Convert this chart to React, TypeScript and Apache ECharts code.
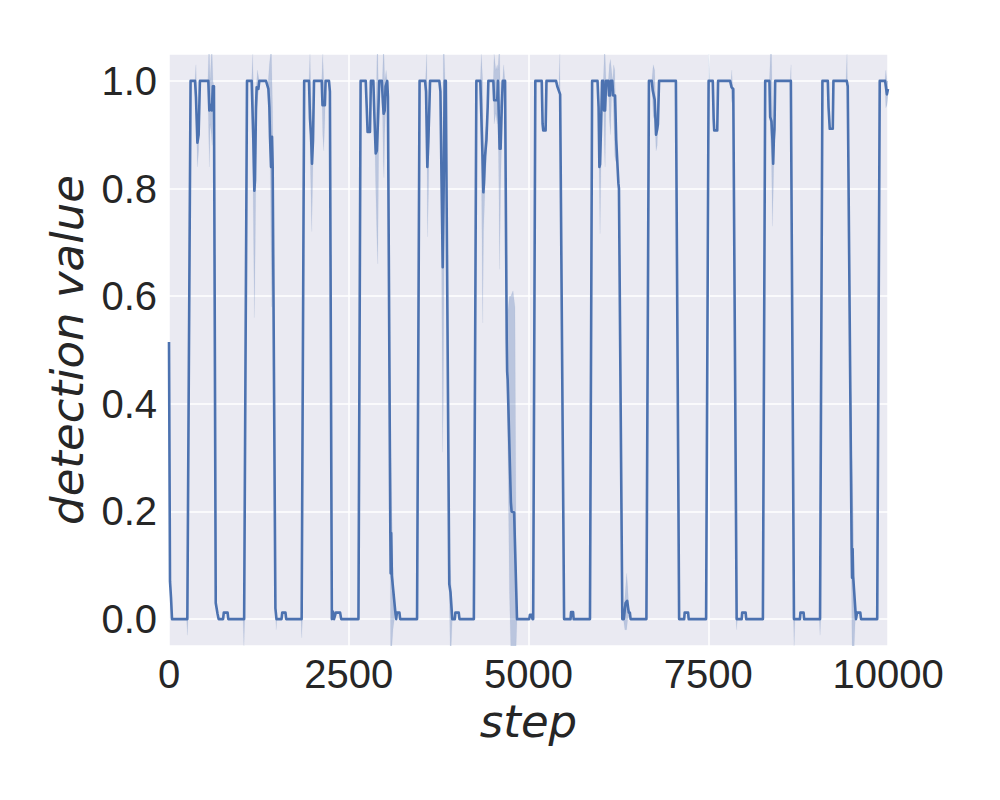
import React, { useEffect, useRef } from "react";
import * as echarts from "echarts";

// Axis ticks
const X_TICKS = [0, 2500, 5000, 7500, 10000];
const Y_TICKS = [0, 0.2, 0.4, 0.6, 0.8, 1.0];
const X_RANGE = [0, 10000];
const Y_RANGE = [-0.05, 1.05];

// Mean detection value per step: [step, value]
const meanCurve: [number, number][] = [
  [0, 0.515], [14, 0.07], [28, 0.04], [42, 0],
  // cycle 1
  [255, 0], [300, 1.0], [362, 1.0], [375, 0.97], [395, 0.885], [412, 0.9], [430, 1.0], [547, 1.0], [561, 0.945], [580, 0.955], [595, 0.945], [610, 0.99], [625, 0.99], [650, 0.03], [675, 0.01], [690, 0],
  [752, 0], [762, 0.012], [815, 0.012], [825, 0],
  // cycle 2
  [1045, 0], [1085, 1.0], [1150, 1.0], [1173, 0.889], [1187, 0.796], [1196, 0.815], [1210, 0.951], [1219, 0.988], [1243, 0.985], [1256, 1.0], [1349, 1.0], [1382, 0.985], [1396, 0.951], [1405, 0.896], [1419, 0.84], [1433, 0.896], [1442, 0.84], [1451, 0.84], [1480, 0.02], [1495, 0],
  [1565, 0], [1575, 0.012], [1620, 0.012], [1630, 0],
  // cycle 3
  [1845, 0], [1880, 1.0], [1947, 1.0], [1961, 0.93], [1975, 0.9], [1989, 0.846], [2003, 0.89], [2017, 1.0], [2124, 1.0], [2135, 0.955], [2168, 0.955], [2178, 1.0], [2225, 1.0], [2238, 0.98], [2265, 0],
  [2280, 0.014], [2295, 0], [2320, 0.012], [2380, 0.012], [2395, 0],
  // cycle 4
  [2635, 0], [2665, 1.0], [2736, 1.0], [2750, 0.951], [2762, 0.905], [2795, 0.905], [2808, 1.0], [2842, 1.0], [2858, 0.93], [2875, 0.865], [2890, 0.87], [2905, 0.92], [2925, 1.0], [2960, 1.0], [2975, 0.96], [2985, 0.939], [3000, 0.945], [3012, 0.99], [3035, 1.0], [3045, 0.97], [3078, 0.165], [3083, 0.085], [3090, 0.16], [3100, 0.08], [3150, 0.01], [3160, 0],
  [3170, 0.012], [3205, 0.012], [3215, 0],
  // cycle 5
  [3450, 0], [3485, 1.0], [3561, 1.0], [3575, 0.98], [3593, 0.84], [3607, 0.889], [3621, 0.951], [3631, 1.0], [3760, 1.0], [3775, 0.98], [3790, 0.82], [3807, 0.654], [3820, 0.8], [3835, 1.0], [3850, 1.0], [3898, 0.065], [3915, 0.05], [3940, 0],
  [3975, 0], [3983, 0.012], [4030, 0.012], [4040, 0],
  // cycle 6
  [4240, 0], [4275, 1.0], [4330, 1.0], [4345, 0.93], [4360, 0.86], [4372, 0.793], [4380, 0.81], [4395, 0.86], [4415, 0.89], [4432, 0.95], [4442, 1.0], [4511, 1.0], [4522, 0.964], [4565, 0.964], [4575, 1.0], [4588, 0.93], [4598, 0.874], [4612, 0.874], [4628, 0.95], [4642, 1.0], [4674, 1.0], [4697, 0.52], [4703, 0.46], [4710, 0.445], [4755, 0.217], [4765, 0.2], [4800, 0.198], [4840, 0],
  [5010, 0], [5020, 0.008], [5045, 0.008], [5055, 0],
  // cycle 7
  [5065, 0], [5095, 1.0], [5184, 1.0], [5196, 0.92], [5205, 0.908], [5238, 0.908], [5250, 1.0], [5383, 1.0], [5400, 0.99], [5440, 0.975], [5495, 0],
  [5585, 0], [5592, 0.013], [5620, 0.013], [5628, 0],
  // cycle 8
  [5855, 0], [5885, 1.0], [5960, 1.0], [5975, 0.95], [5986, 0.84], [5995, 0.845], [6010, 0.92], [6023, 1.0], [6041, 1.0], [6051, 0.945], [6065, 0.945], [6080, 1.0], [6110, 1.0], [6120, 0.973], [6134, 0.973], [6145, 1.0], [6166, 1.0], [6178, 0.973], [6204, 0.973], [6220, 0.89], [6250, 0.81], [6258, 0.8], [6305, 0],
  [6325, 0], [6350, 0.03], [6372, 0.034], [6395, 0.012], [6410, 0.012], [6420, 0],
  // cycle 9
  [6640, 0], [6675, 1.0], [6714, 1.0], [6728, 0.982], [6755, 0.965], [6774, 0.9], [6790, 0.91], [6800, 0.92], [6816, 1.0], [7050, 1.0], [7095, 0],
  [7165, 0], [7172, 0.012], [7220, 0.012], [7228, 0],
  // cycle 10
  [7470, 0], [7505, 1.0], [7563, 1.0], [7575, 0.93], [7583, 0.908], [7625, 0.908], [7637, 1.0], [7804, 1.0], [7825, 0.988], [7848, 0.985], [7895, 0],
  [7965, 0], [7972, 0.012], [8020, 0.012], [8028, 0],
  // cycle 11
  [8260, 0], [8292, 1.0], [8351, 1.0], [8361, 0.933], [8379, 0.925], [8393, 0.89], [8403, 0.846], [8412, 0.89], [8421, 0.91], [8431, 1.0], [8649, 1.0], [8692, 0],
  [8775, 0], [8782, 0.012], [8826, 0.012], [8834, 0],
  // cycle 12
  [9055, 0], [9088, 1.0], [9163, 1.0], [9173, 0.951], [9190, 0.911], [9232, 0.911], [9241, 1.0], [9427, 1.0], [9440, 0.99], [9494, 0.133], [9500, 0.077], [9508, 0.13], [9515, 0.08], [9555, 0], [9570, 0.012], [9615, 0.012], [9625, 0],
  // cycle 13
  [9850, 0], [9885, 1.0], [9960, 1.0], [9975, 0.985], [9985, 0.975], [10000, 0.985],
];

// Confidence band pieces: each is a list of [step, lower, upper]
const ciBands: number[][][] = [
  [[360, 1, 1], [375, 0.95, 1.03], [395, 0.84, 0.92], [412, 0.87, 0.93], [430, 1, 1]],
  [[540, 1, 1], [552, 0.9, 1.05], [562, 0.84, 1.05], [572, 0.92, 1.0], [590, 0.9, 1.05], [600, 0.88, 1.05], [612, 0.96, 1.0], [625, 0.99, 0.99]],
  [[1150, 1, 1], [1164, 0.88, 1.05], [1187, 0.56, 0.9], [1200, 0.7, 0.95], [1215, 0.93, 0.99], [1230, 0.96, 1.02], [1256, 1, 1]],
  [[1375, 0.99, 0.99], [1396, 0.92, 1.03], [1412, 0.8, 1.05], [1425, 0.58, 1.05], [1440, 0.78, 0.95], [1451, 0.84, 0.84]],
  [[1947, 1, 1], [1961, 0.88, 1.05], [1985, 0.72, 0.92], [2003, 0.85, 0.95], [2017, 1, 1]],
  [[2124, 1, 1], [2138, 0.9, 1.05], [2152, 0.87, 1.0], [2168, 0.93, 0.98], [2178, 1, 1]],
  [[2856, 0.94, 0.94], [2875, 0.8, 0.9], [2893, 0.7, 1.05], [2903, 0.66, 1.05], [2915, 0.85, 0.97], [2926, 1, 1]],
  [[2965, 0.99, 0.99], [2980, 0.85, 1.05], [2990, 0.82, 1.05], [3000, 0.9, 1.0], [3020, 0.97, 1.02], [3035, 1, 1]],
  [[3060, 0.6, 0.6], [3072, 0.3, 0.5], [3082, -0.05, 0.35], [3100, -0.05, 0.2], [3115, -0.02, 0.1], [3135, 0, 0.01]],
  [[3565, 0.99, 0.99], [3584, 0.9, 1.05], [3596, 0.71, 0.92], [3610, 0.8, 0.95], [3631, 1, 1]],
  [[3770, 0.99, 0.99], [3790, 0.7, 0.95], [3805, 0.31, 0.8], [3815, 0.4, 1.05], [3828, 0.7, 1.05], [3840, 0.95, 1.0], [3850, 1, 1]],
  [[3890, 0.22, 0.22], [3900, 0.03, 0.165], [3910, -0.05, 0.1], [3925, -0.05, 0.06], [3940, 0, 0]],
  [[4330, 1, 1], [4344, 0.85, 1.05], [4363, 0.55, 1.0], [4375, 0.72, 0.85], [4395, 0.8, 0.9], [4420, 0.87, 0.93], [4442, 1, 1]],
  [[4511, 1, 1], [4522, 0.92, 1.05], [4545, 0.94, 1.02], [4565, 0.92, 1.03], [4575, 0.95, 1.02], [4588, 0.8, 1.05], [4598, 0.65, 1.05], [4612, 0.8, 0.95], [4628, 0.9, 1.0], [4642, 1, 1]],
  [[4640, 1, 1], [4655, 0.98, 1.03], [4672, 1, 1]],
  [[4697, 0.52, 0.52], [4712, 0.33, 0.57], [4735, 0.05, 0.6], [4753, -0.05, 0.6], [4785, -0.05, 0.61], [4812, -0.05, 0.58], [4828, -0.05, 0.1], [4840, 0, 0]],
  [[5420, 0.98, 0.98], [5436, 0.97, 1.05], [5446, 0.87, 0.87]],
  [[5960, 1, 1], [5980, 0.85, 0.97], [5995, 0.716, 0.88], [6010, 0.85, 0.95], [6023, 1, 1]],
  [[6041, 1, 1], [6055, 0.88, 1.05], [6065, 0.84, 1.05], [6078, 0.95, 1.0], [6088, 1, 1]],
  [[6110, 1, 1], [6125, 0.93, 1.03], [6140, 0.9, 1.04], [6155, 0.97, 1.02], [6170, 0.98, 1.0], [6185, 0.93, 1.03], [6200, 0.86, 1.02], [6215, 0.85, 0.92], [6235, 0.85, 0.85]],
  [[6320, 0, 0], [6340, -0.02, 0.04], [6365, -0.02, 0.085], [6380, 0.0, 0.06], [6395, 0.005, 0.02], [6410, 0.012, 0.012]],
  [[6714, 1, 1], [6735, 0.93, 1.03], [6755, 0.94, 1.02], [6774, 0.87, 0.93], [6790, 0.88, 0.95], [6816, 1, 1]],
  [[7495, 0.7, 0.7], [7508, 0.98, 1.05], [7520, 1, 1]],
  [[7815, 0.99, 0.99], [7827, 0.96, 1.02], [7840, 0.985, 0.985]],
  [[8351, 1, 1], [8365, 0.9, 1.05], [8380, 0.85, 1.05], [8393, 0.73, 0.95], [8405, 0.8, 0.9], [8420, 0.9, 0.95], [8431, 1, 1]],
  [[8640, 1, 1], [8652, 0.93, 1.03], [8662, 0.7, 0.7]],
  [[9415, 1, 1], [9430, 0.99, 1.05], [9448, 0.86, 0.86]],
  [[9470, 0.51, 0.51], [9490, 0.1, 0.4], [9500, -0.05, 0.3], [9515, -0.05, 0.2], [9530, -0.05, 0.05], [9545, 0, 0.02]],
  [[9955, 1, 1], [9970, 0.95, 1.02], [9985, 0.955, 1.0], [10000, 0.97, 1.0]],
  // faint spikes below zero
  [[245, 0, 0], [255, -0.03, 0], [265, 0, 0]],
  [[1030, 0, 0], [1042, -0.05, 0], [1054, 0, 0]],
  [[1480, 0.02, 0.02], [1490, -0.02, 0.01], [1500, 0, 0]],
  [[1836, 0, 0], [1846, -0.035, 0], [1856, 0, 0]],
  [[7885, 0.004, 0.004], [7895, -0.02, 0], [7905, 0, 0]],
  [[8682, 0.02, 0.02], [8694, -0.05, 0], [8706, 0, 0]],
  [[9045, 0, 0], [9055, -0.03, 0], [9065, 0, 0]],
];

const LINE_COLOR = "#4C72B0";
const TEXT_COLOR = "#262626";

export default function App() {
  const ref = useRef<HTMLDivElement>(null);

  useEffect(() => {
    if (!ref.current) return;
    const chart = echarts.init(ref.current, null, { renderer: "svg" });
    const isTick = (v: number, ticks: number[]) => ticks.some((t) => Math.abs(t - v) < 1e-9);

    chart.setOption({
      animation: false,
      backgroundColor: "#ffffff",
      grid: {
        left: 169,
        top: 54,
        width: 719,
        height: 592,
        show: true,
        backgroundColor: "#EAEAF2",
        borderWidth: 0,
      },
      xAxis: {
        type: "value",
        min: X_RANGE[0],
        max: X_RANGE[1],
        interval: 2500,
        name: "step",
        nameLocation: "middle",
        nameGap: 52,
        nameTextStyle: {
          fontFamily: "DejaVu Sans",
          fontStyle: "italic",
          fontSize: 45,
          color: TEXT_COLOR,
        },
        axisLine: { show: false },
        axisTick: { show: false },
        axisLabel: {
          margin: 8,
          fontFamily: "Liberation Sans",
          fontSize: 40,
          color: TEXT_COLOR,
          formatter: (v: number) => (isTick(v, X_TICKS) ? String(v) : ""),
        },
        splitLine: { show: true, lineStyle: { color: "#ffffff", width: 1.5 } },
      },
      yAxis: {
        type: "value",
        min: Y_RANGE[0],
        max: Y_RANGE[1],
        splitNumber: 5,
        name: "detection value",
        nameLocation: "middle",
        nameGap: 70,
        nameTextStyle: {
          fontFamily: "DejaVu Sans",
          fontStyle: "italic",
          fontSize: 45,
          color: TEXT_COLOR,
        },
        axisLine: { show: false },
        axisTick: { show: false },
        axisLabel: {
          margin: 12,
          fontFamily: "Liberation Sans",
          fontSize: 40,
          color: TEXT_COLOR,
          showMinLabel: false,
          showMaxLabel: false,
          formatter: (v: number) => (isTick(v, Y_TICKS) ? v.toFixed(1) : ""),
        },
        splitLine: { show: true, lineStyle: { color: "#ffffff", width: 1.5 } },
      },
      series: [
        {
          type: "custom",
          z: 1,
          clip: true,
          encode: { x: 0, y: 1 },
          data: ciBands.map((seg, i) => [seg[0][0], seg[0][1], i]),
          renderItem: (params: any, api: any) => {
            const seg = ciBands[params.dataIndex];
            const upper = seg.map((p) => api.coord([p[0], p[2]]));
            const lower = seg
              .slice()
              .reverse()
              .map((p) => api.coord([p[0], p[1]]));
            return {
              type: "polygon",
              shape: { points: upper.concat(lower) },
              style: { fill: LINE_COLOR, opacity: 0.3, stroke: LINE_COLOR, lineWidth: 0.6, strokeOpacity: 0.3 },
            };
          },
        },
        {
          type: "line",
          z: 2,
          data: meanCurve,
          showSymbol: false,
          symbol: "none",
          lineStyle: { color: LINE_COLOR, width: 2.6, join: "round" },
          emphasis: { disabled: true },
        },
      ],
    });
    return () => chart.dispose();
  }, []);

  return (
    <div
      ref={ref}
      style={{ position: "fixed", left: 0, top: 0, width: 1000, height: 800 }}
    />
  );
}
